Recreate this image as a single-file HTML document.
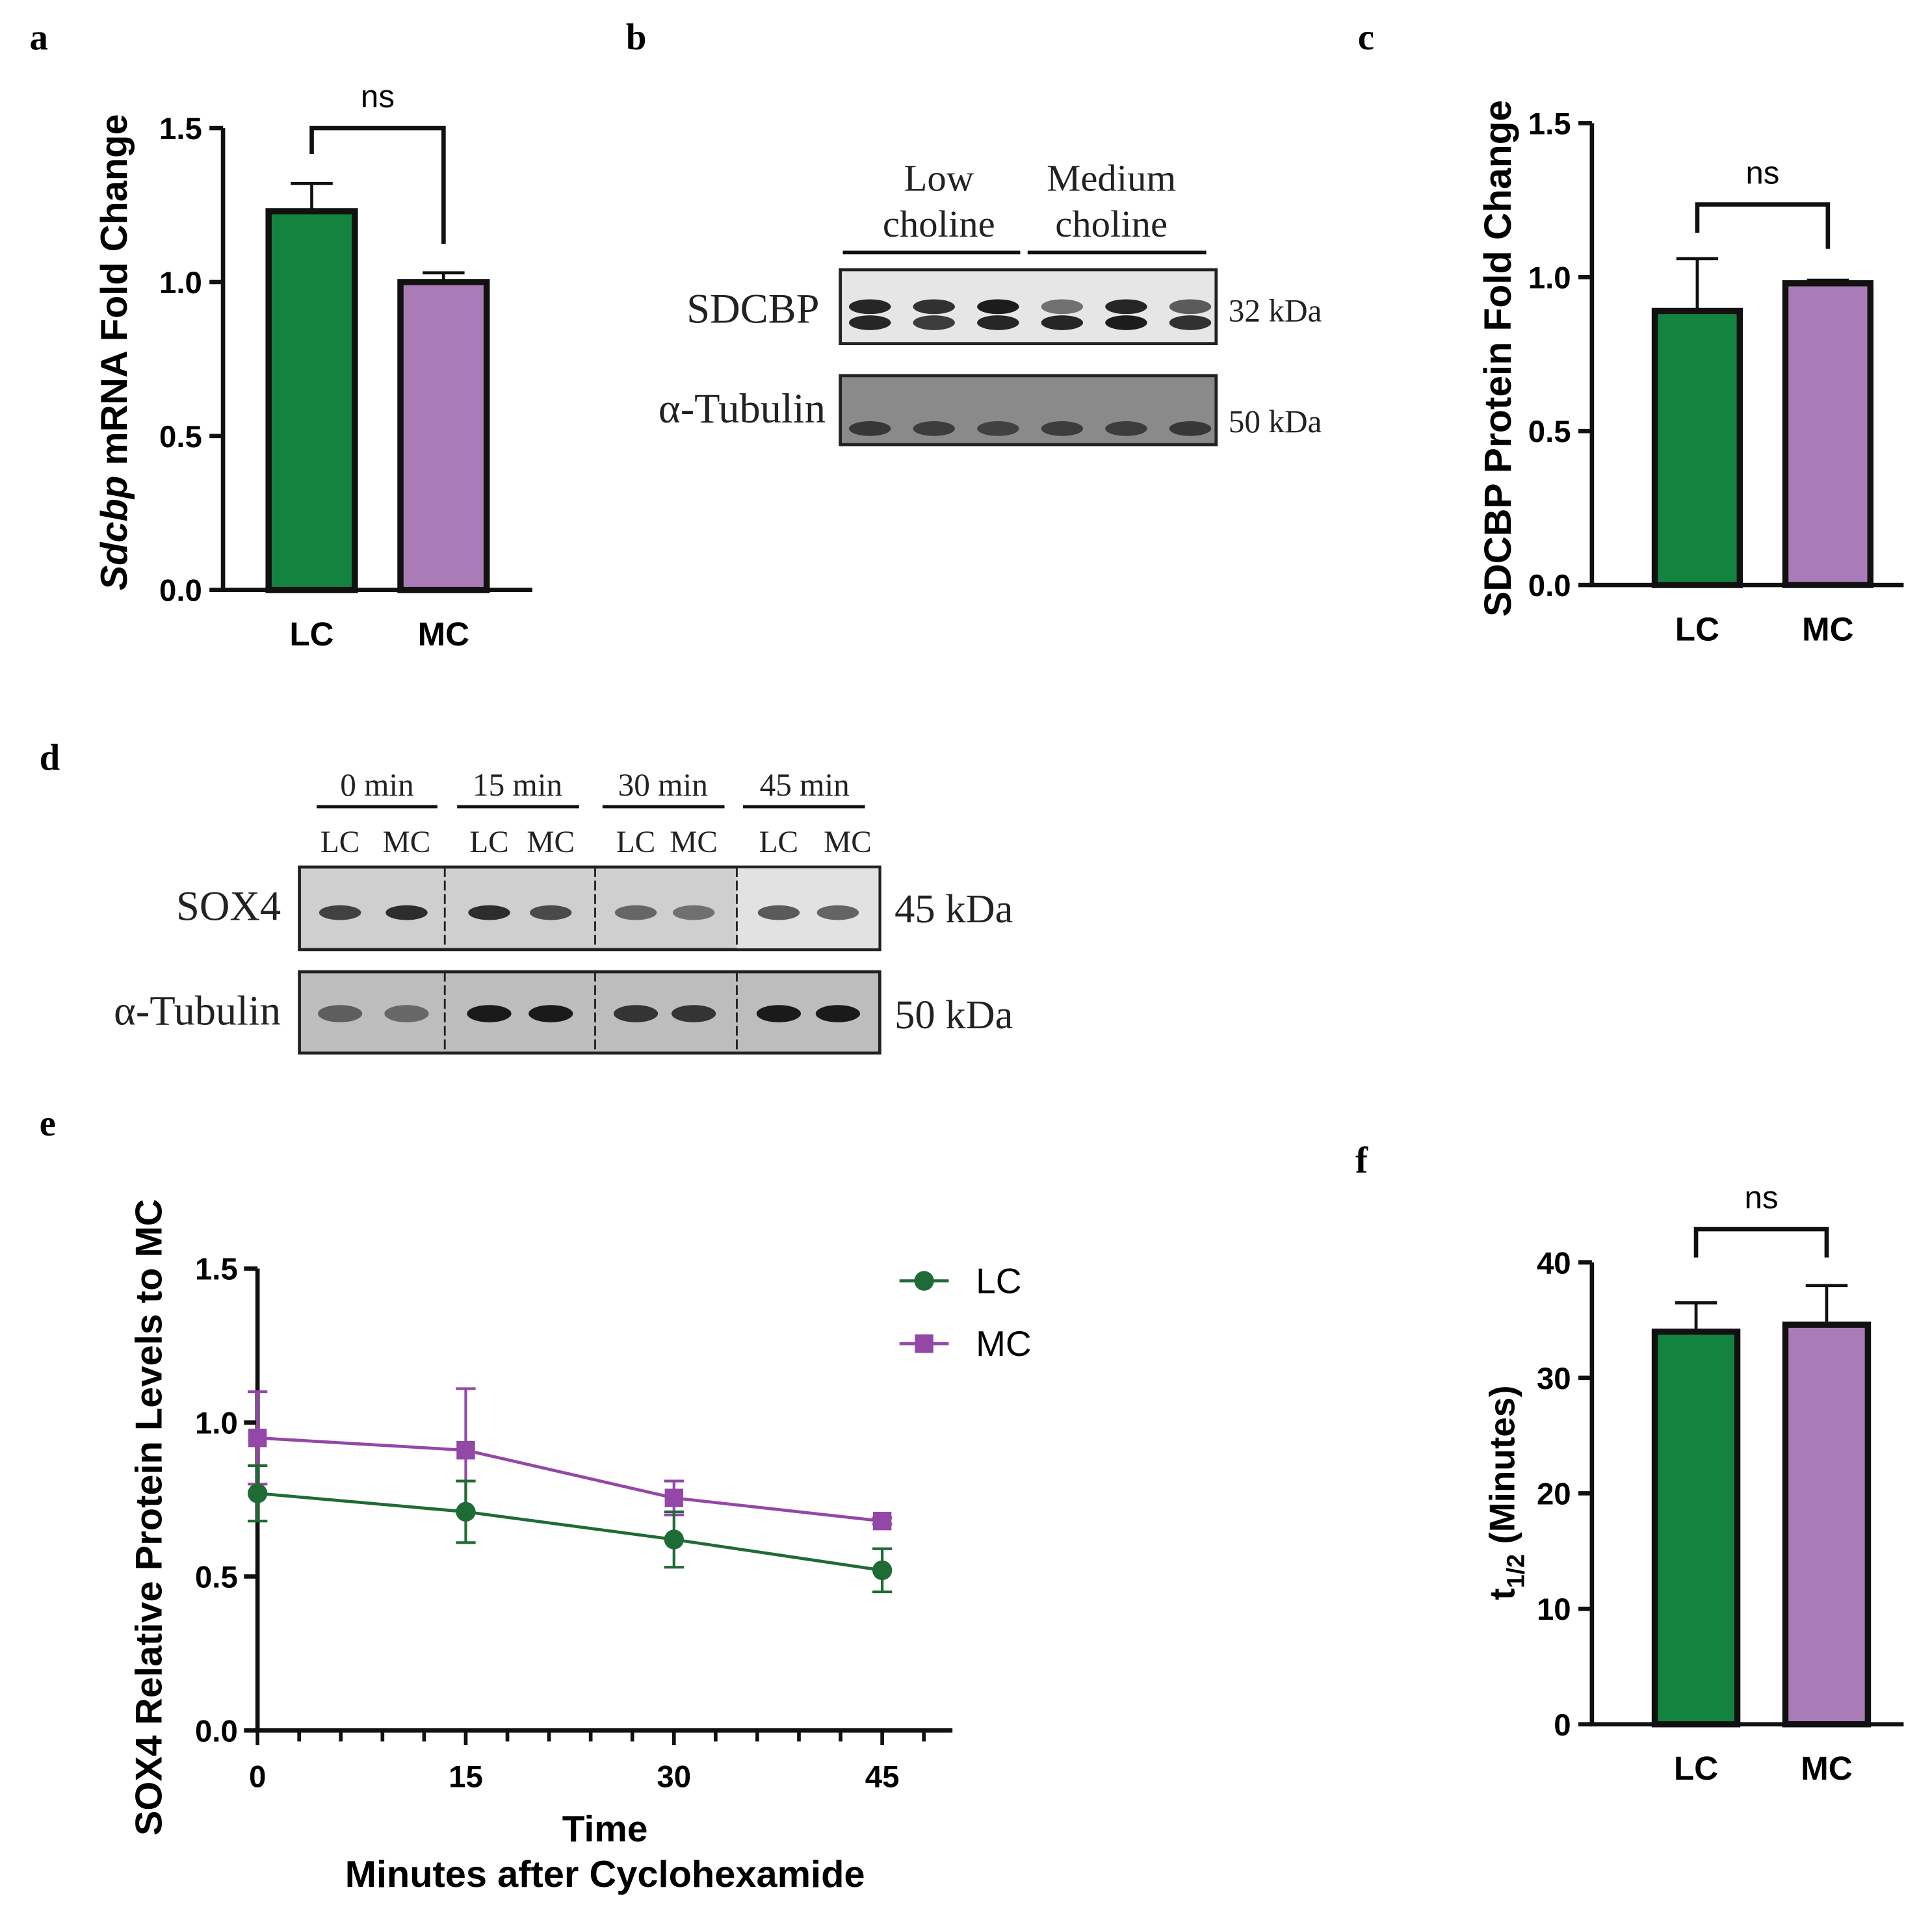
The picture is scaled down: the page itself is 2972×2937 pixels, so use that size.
<!DOCTYPE html>
<html><head><meta charset="utf-8"><style>
html,body{margin:0;padding:0;background:#fff;}
svg{display:block;}
.sans{font-family:"Liberation Sans",sans-serif;}
.serif{font-family:"Liberation Serif",serif;}
</style></head><body>
<svg id="fig" width="2972" height="2937" viewBox="0 0 1568 1550" preserveAspectRatio="none" xmlns="http://www.w3.org/2000/svg">
<rect width="1568" height="1550" fill="#fff"/>
<g class="serif" font-weight="bold" font-size="30">
<text x="24" y="40">a</text>
<text x="508" y="40">b</text>
<text x="1102" y="40">c</text>
<text x="32" y="625">d</text>
<text x="32" y="922">e</text>
<text x="1100" y="952">f</text>
</g>

<!-- Panel b blot -->
<g id="blotb" class="serif" fill="#222">
<text x="762" y="155" font-size="31" text-anchor="middle">Low</text>
<text x="762" y="192" font-size="31" text-anchor="middle">choline</text>
<text x="902" y="155" font-size="31" text-anchor="middle">Medium</text>
<text x="902" y="192" font-size="31" text-anchor="middle">choline</text>
<line x1="684" y1="205" x2="828" y2="205" stroke="#111" stroke-width="3"/>
<line x1="834" y1="205" x2="979" y2="205" stroke="#111" stroke-width="3"/>
<text x="665" y="262" font-size="34" text-anchor="end">SDCBP</text>
<text x="670" y="343" font-size="34" text-anchor="end">α-Tubulin</text>
<text x="997" y="261" font-size="26">32 kDa</text>
<text x="997" y="351" font-size="26">50 kDa</text>
<rect x="682" y="219" width="305" height="60" fill="#e6e6e6" stroke="#222" stroke-width="2.5"/>
<rect x="682" y="305" width="305" height="56" fill="#8a8a8a" stroke="#222" stroke-width="2.5"/>
</g>

<!-- Panel d blot -->
<g id="blotd" class="serif" fill="#222">
<text x="306" y="646" font-size="26" text-anchor="middle">0 min</text>
<text x="420" y="646" font-size="26" text-anchor="middle">15 min</text>
<text x="538" y="646" font-size="26" text-anchor="middle">30 min</text>
<text x="653" y="646" font-size="26" text-anchor="middle">45 min</text>
<line x1="257" y1="655" x2="355" y2="655" stroke="#111" stroke-width="2.5"/>
<line x1="371" y1="655" x2="470" y2="655" stroke="#111" stroke-width="2.5"/>
<line x1="489" y1="655" x2="588" y2="655" stroke="#111" stroke-width="2.5"/>
<line x1="603" y1="655" x2="702" y2="655" stroke="#111" stroke-width="2.5"/>
<g font-size="25" text-anchor="middle">
<text x="276" y="692">LC</text><text x="330" y="692">MC</text>
<text x="397" y="692">LC</text><text x="447" y="692">MC</text>
<text x="516" y="692">LC</text><text x="563" y="692">MC</text>
<text x="632" y="692">LC</text><text x="688" y="692">MC</text>
</g>
<text x="228" y="747" font-size="34" text-anchor="end">SOX4</text>
<text x="228" y="832" font-size="34" text-anchor="end">α-Tubulin</text>
<text x="726" y="749" font-size="33">45 kDa</text>
<text x="726" y="835" font-size="33">50 kDa</text>
<rect x="243" y="704" width="471" height="67" fill="#cfcfcf" stroke="#222" stroke-width="2.5"/>
<rect x="598" y="705" width="115" height="65" fill="#e2e2e2"/>
<rect x="243" y="789" width="471" height="66" fill="#bdbdbd" stroke="#222" stroke-width="2.5"/>
<g stroke="#222" stroke-width="1.5" stroke-dasharray="8,3">
<line x1="361" y1="704" x2="361" y2="771"/><line x1="483" y1="704" x2="483" y2="771"/><line x1="598" y1="704" x2="598" y2="771"/>
<line x1="361" y1="789" x2="361" y2="855"/><line x1="483" y1="789" x2="483" y2="855"/><line x1="598" y1="789" x2="598" y2="855"/>
</g>
</g>

<g id="charts"></g>
</svg>
<script>
// ---- data ----
const barCats = ["LC", "MC"];
const aValues = [1.23, 1.0];
const aErrors = [0.09, 0.03];
const aTicks = [0, 0.5, 1.0, 1.5];
const cValues = [0.89, 0.98];
const cErrors = [0.17, 0.01];
const cTicks = [0, 0.5, 1.0, 1.5];
const fValues = [34, 34.6];
const fErrors = [2.5, 3.4];
const fTicks = [0, 10, 20, 30, 40];
const eTimes = [0, 15, 30, 45];
const eLC = [0.77, 0.71, 0.62, 0.52];
const eLCerr = [0.09, 0.10, 0.09, 0.07];
const eMC = [0.95, 0.91, 0.755, 0.68];
const eMCerr = [0.15, 0.20, 0.055, 0.01];
const eYTicks = [0, 0.5, 1.0, 1.5];
const eXTicks = [0, 15, 30, 45];
const blotBLanes = [0,1,2,3,4,5];
const blotBTop = [0.9,0.85,0.95,0.55,0.9,0.65];
const blotBBot = [0.9,0.8,0.9,0.9,0.95,0.85];
const blotBTub = [0.8,0.75,0.7,0.75,0.75,0.8];
const blotDSox = [0.75,0.85,0.85,0.7,0.55,0.5,0.65,0.6];
const blotDTub = [0.55,0.5,0.95,0.95,0.8,0.8,0.95,0.95];

const NS = "http://www.w3.org/2000/svg";
const root = document.getElementById("charts");
const GREEN = "#13843f", PURPLE = "#a97bb7", DG = "#1f6b35", DP = "#9347a6";
function mk(tag, attrs, parent) {
  const el = document.createElementNS(NS, tag);
  for (const k in attrs) el.setAttribute(k, attrs[k]);
  (parent || root).appendChild(el);
  return el;
}
function txt(s, attrs, parent) { const t = mk("text", attrs, parent); t.textContent = s; return t; }

// ---- blots bands ----
const bg = document.getElementById("blotb");
blotBLanes.forEach((i) => {
  const cx = 706 + i * 52;
  let b = mk("ellipse", {cx: cx, cy: 249, rx: 17, ry: 6, fill: "#111", opacity: blotBTop[i]}, bg);
  
  
  b = mk("ellipse", {cx: cx, cy: 262, rx: 17, ry: 6, fill: "#111", opacity: blotBBot[i]}, bg);
  
  
  b = mk("ellipse", {cx: cx, cy: 348, rx: 17, ry: 6, fill: "#222", opacity: blotBTub[i]}, bg);
  
  
});
const dg = document.getElementById("blotd");
const dX = [276, 330, 397, 447, 516, 563, 632, 680];
blotDSox.forEach((v, i) => {
  let b = mk("ellipse", {cx: dX[i], cy: 741, rx: 17, ry: 6, fill: "#111", opacity: v}, dg);
  
  
  b = mk("ellipse", {cx: dX[i], cy: 823, rx: 18, ry: 7, fill: "#111", opacity: blotDTub[i]}, dg);
  
  
});

// ---- bar chart ----
function barChart(opt) {
  const g = mk("g", {class: "sans"});
  
  
  const y = v => opt.y0 - (v - opt.vmin) / (opt.vmax - opt.vmin) * (opt.y0 - opt.y1);
  opt.values.forEach((v, i) => {
    const x = opt.barX[i];
    const e = mk("line", {x1: x + opt.bw / 2, x2: x + opt.bw / 2, y1: y(v), y2: y(v + opt.errors[i]), stroke: "#111", "stroke-width": 2.5}, g);
    
    
    const c = mk("line", {x1: x + opt.bw / 2 - 17, x2: x + opt.bw / 2 + 17, y1: y(v + opt.errors[i]), y2: y(v + opt.errors[i]), stroke: "#111", "stroke-width": 2.5}, g);
    
    
    const r = mk("rect", {x: x, y: y(v), width: opt.bw, height: y(opt.vmin) - y(v), fill: i === 0 ? GREEN : PURPLE, stroke: "#111", "stroke-width": 5}, g);
    
    
    const l = txt(barCats[i], {x: x + opt.bw / 2, y: opt.y0 + 45, "font-size": 27, "font-weight": "bold", "text-anchor": "middle"}, g);
    
    
  });
  const ax = mk("path", {d: `M${opt.ax},${opt.y1} V${opt.y0} H${opt.axEnd}`, fill: "none", stroke: "#111", "stroke-width": 3.5}, g);
  
  
  opt.ticks.forEach(t => {
    mk("line", {x1: opt.ax - 11, x2: opt.ax, y1: y(t), y2: y(t), stroke: "#111", "stroke-width": 3.5}, g);
    const tl = txt(opt.fmt(t), {x: opt.ax - 17, y: y(t) + 9, "font-size": 25, "font-weight": "bold", "text-anchor": "end"}, g);
    
    
  });
  const bx0 = opt.barX[0] + opt.bw / 2, bx1 = opt.barX[1] + opt.bw / 2;
  const br = mk("path", {d: `M${bx0},${opt.brL} V${opt.brY} H${bx1} V${opt.brR}`, fill: "none", stroke: "#111", "stroke-width": 3.5}, g);
  
  
  const ns = txt("ns", {x: (bx0 + bx1) / 2, y: opt.brY - 17, "font-size": 26, "text-anchor": "middle"}, g);
  
  
  const tt = mk("text", {transform: `translate(${opt.titleX},${opt.titleY}) rotate(-90)`, "font-size": opt.titleSize, "font-weight": "bold", "text-anchor": "middle"}, g);
  tt.innerHTML = opt.title;
  
  
}
const f1 = t => t.toFixed(1);
barChart({name: "chart-a", values: aValues, errors: aErrors, ticks: aTicks, fmt: f1, vmin: 0, vmax: 1.5, y0: 479, y1: 104, ax: 181, axEnd: 432, barX: [218, 325], bw: 70, brY: 104, brL: 125, brR: 198, titleX: 103, titleY: 286, titleSize: 30.5, title: '<tspan font-style="italic">Sdcbp</tspan> mRNA Fold Change'});
barChart({name: "chart-c", values: cValues, errors: cErrors, ticks: cTicks, fmt: f1, vmin: 0, vmax: 1.5, y0: 475, y1: 100, ax: 1292, axEnd: 1545, barX: [1343, 1449], bw: 69, brY: 166, brL: 189, brR: 202, titleX: 1226, titleY: 291, titleSize: 31, title: 'SDCBP  Protein Fold Change'});
barChart({name: "chart-f", values: fValues, errors: fErrors, ticks: fTicks, fmt: t => String(t), vmin: 0, vmax: 40, y0: 1400, y1: 1025, ax: 1292, axEnd: 1545, barX: [1343, 1449], bw: 67, brY: 998, brL: 1021, brR: 1021, titleX: 1229, titleY: 1212, titleSize: 29, title: 't<tspan font-size="20" dy="8">1/2</tspan><tspan dy="-8"> (Minutes)</tspan>'});

// ---- line chart e ----
(function () {
  const g = mk("g", {class: "sans"});
  
  
  const X0 = 209, Y0 = 1405, Y1 = 1030;
  const x = t => X0 + t * (716 - X0) / 45;
  const y = v => Y0 - v / 1.5 * (Y0 - Y1);
  const ax = mk("path", {d: `M${X0},${Y1} V${Y0} H773`, fill: "none", stroke: "#111", "stroke-width": 3.5}, g);
  
  
  eYTicks.forEach(t => {
    mk("line", {x1: X0 - 11, x2: X0, y1: y(t), y2: y(t), stroke: "#111", "stroke-width": 3.5}, g);
    const tl = txt(t.toFixed(1), {x: X0 - 16, y: y(t) + 9, "font-size": 25, "font-weight": "bold", "text-anchor": "end"}, g);
    
    
  });
  for (let t = 0; t <= 48; t += 3) {
    mk("line", {x1: x(t), x2: x(t), y1: Y0, y2: Y0 + (t % 15 === 0 ? 12 : 9), stroke: "#111", "stroke-width": 3}, g);
  }
  eXTicks.forEach(t => {
    const tl = txt(String(t), {x: x(t), y: Y0 + 46, "font-size": 25, "font-weight": "bold", "text-anchor": "middle"}, g);
    
    
  });
  const t1 = txt("Time", {x: 491, y: 1495, "font-size": 30, "font-weight": "bold", "text-anchor": "middle"}, g);
  
  
  const t2 = txt("Minutes after Cyclohexamide", {x: 491, y: 1532, "font-size": 30.5, "font-weight": "bold", "text-anchor": "middle"}, g);
  
  
  const yt = txt("SOX4 Relative Protein Levels to MC", {transform: `translate(131,1232) rotate(-90)`, "font-size": 30.5, "font-weight": "bold", "text-anchor": "middle"}, g);
  
  
  function series(vals, errs, col, sq, name) {
    const sg = mk("g", {}, g);
    
    
    const pl = mk("polyline", {points: eTimes.map((t, i) => x(t) + "," + y(vals[i])).join(" "), fill: "none", stroke: col, "stroke-width": 2.5}, sg);
    
    
    eTimes.forEach((t, i) => {
      const cx = x(t), hi = y(vals[i] + errs[i]), lo = y(vals[i] - errs[i]);
      const eb = mk("path", {d: `M${cx},${hi} V${lo} M${cx - 8},${hi} H${cx + 8} M${cx - 8},${lo} H${cx + 8}`, stroke: col, "stroke-width": 2.2, fill: "none"}, sg);
      
      
      let m;
      if (sq) m = mk("rect", {x: cx - 7.5, y: y(vals[i]) - 7.5, width: 15, height: 15, fill: col}, sg);
      else m = mk("circle", {cx: cx, cy: y(vals[i]), r: 8, fill: col}, sg);
      
      
    });
  }
  series(eMC, eMCerr, DP, true, "mc");
  series(eLC, eLCerr, DG, false, "lc");
  const lg = mk("g", {}, g);
  
  
  mk("line", {x1: 730, x2: 770, y1: 1040, y2: 1040, stroke: DG, "stroke-width": 2.5}, lg);
  mk("circle", {cx: 750, cy: 1040, r: 8, fill: DG}, lg);
  const l1 = txt("LC", {x: 792, y: 1050, "font-size": 29}, lg);
  
  
  mk("line", {x1: 730, x2: 770, y1: 1091, y2: 1091, stroke: DP, "stroke-width": 2.5}, lg);
  mk("rect", {x: 742.5, y: 1083.5, width: 15, height: 15, fill: DP}, lg);
  const l2 = txt("MC", {x: 792, y: 1101, "font-size": 29}, lg);
  
  
})();
</script>
</body></html>
